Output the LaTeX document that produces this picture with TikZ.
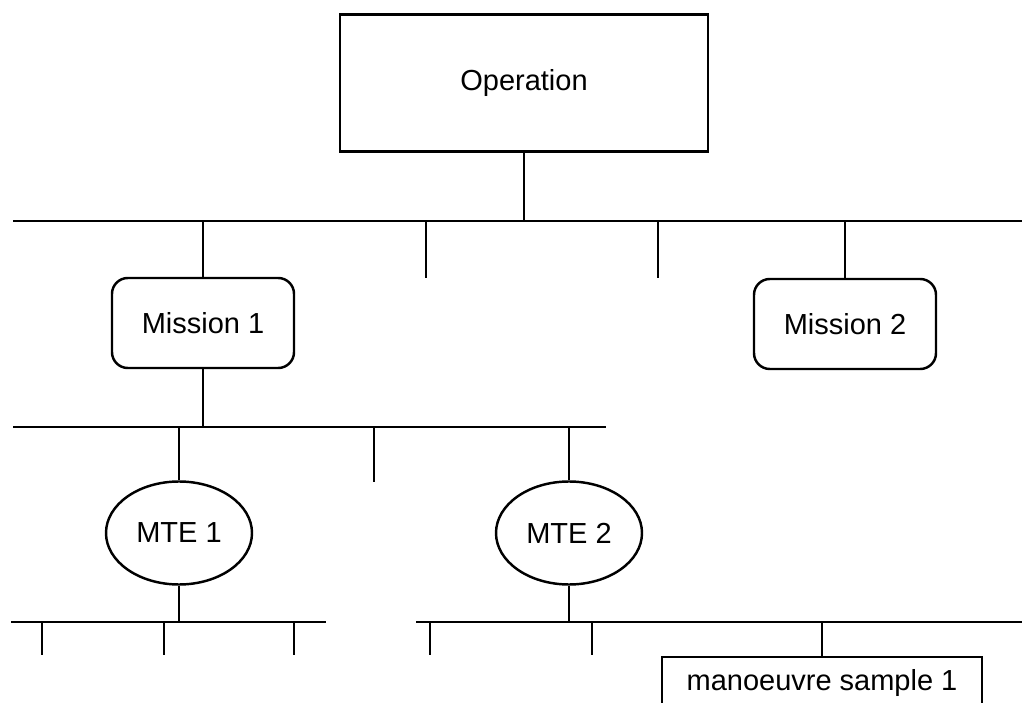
\documentclass[tikz,border=0pt]{standalone}
\usepackage{fontspec}
\setmainfont{Liberation Sans}
\usetikzlibrary{shapes}

\begin{document}
\begin{tikzpicture}[x=0.2mm, y=-0.2mm, line width=1.1pt,
every node/.style={font=\fontsize{16.5}{20}\selectfont},
opbox/.style={draw, line width=1.4pt, minimum width=7.36cm, minimum height=2.74cm},
mis/.style={draw, line width=1.4pt, rounded corners=9pt, minimum width=3.64cm, minimum height=1.8cm},
mte/.style={draw, ellipse, line width=1.4pt, inner sep=0, minimum width=2.92cm, minimum height=2.06cm},
smp/.style={draw, line width=1.4pt, minimum width=6.4cm, minimum height=1.04cm}]
	\useasboundingbox (0,0) rectangle (1022,703);
	\node[opbox] at (524,83) (op) {Operation};
	\node[mis] at (203,323) (m1) {Mission 1};
	\node[mis] at (845,324) (m2) {Mission 2};
	\node[mte] at (179,533) (mte1) {MTE 1};
	\node[mte] at (569,533) (mte2) {MTE 2};
	\node[smp] at (822,683) (ms1) {manoeuvre sample 1};
	% bus lines
	\coordinate (b1w) at (13,221); \coordinate (b1e) at (1022,221);
	\coordinate (b2w) at (13,427); \coordinate (b2e) at (606,427);
	\coordinate (b3w) at (11,622); \coordinate (b3e) at (326,622);
	\coordinate (b4w) at (416,622); \coordinate (b4e) at (1022,622);
	\draw (b1w) -- (b1e);
	\draw (b2w) -- (b2e);
	\draw (b3w) -- (b3e);
	\draw (b4w) -- (b4e);
	\draw (op) -- (op |- b1w);
	\draw (m1) -- (m1 |- b1w);
	\draw (m2) -- (m2 |- b1w);
	\draw (m1) -- (m1 |- b2w);
	\draw (mte1) -- (mte1 |- b2w);
	\draw (mte2) -- (mte2 |- b2w);
	\draw (mte1) -- (mte1 |- b3w);
	\draw (mte2) -- (mte2 |- b4w);
	\draw (ms1) -- (ms1 |- b4w);
	% open branches
	\foreach \x in {426,658} \draw (\x,221) -- (\x,278);
	\draw (374,427) -- (374,482);
	\foreach \x in {42,164,294,430,592} \draw (\x,622) -- (\x,655);
\end{tikzpicture}
\end{document}
